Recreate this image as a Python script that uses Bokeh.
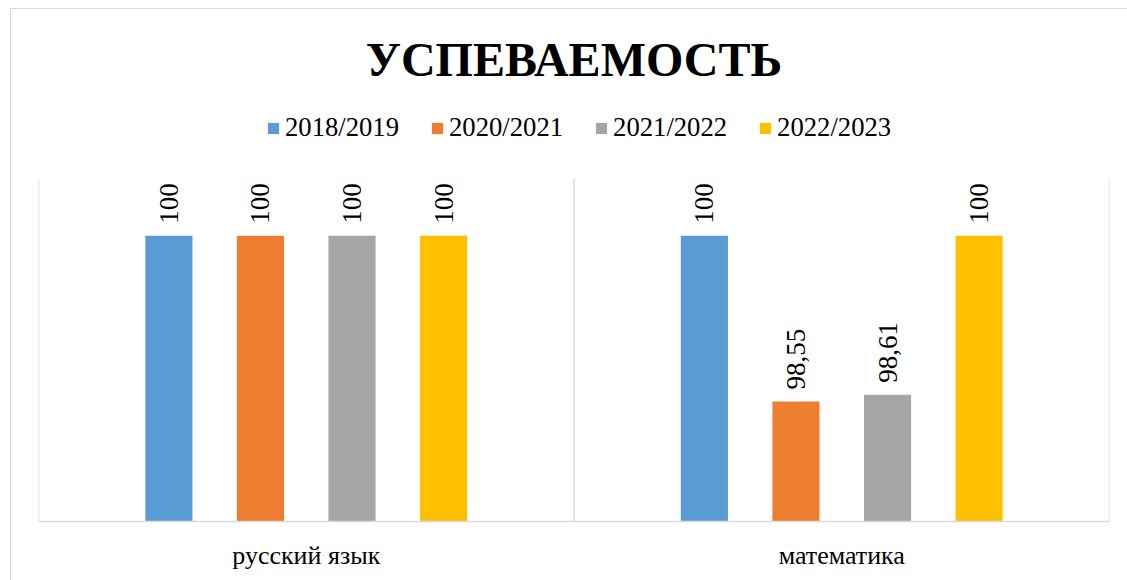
from bokeh.plotting import figure
from bokeh.models import (ColumnDataSource, FactorRange, Range1d, Legend,
                          LegendItem, LabelSet, Title)
from bokeh.transform import dodge
from bokeh.embed import file_html
from bokeh.resources import INLINE

# ---- data ----
categories = ["русский язык", "математика"]
series = ["2018/2019", "2020/2021", "2021/2022", "2022/2023"]
v_2018_2019 = [100, 100]
v_2020_2021 = [100, 98.55]
v_2021_2022 = [100, 98.61]
v_2022_2023 = [100, 100]
colors = ["#5B9BD5", "#ED7D31", "#A5A5A5", "#FFC000"]
y_min, y_axis_max = 97.5, 100.5

values = [v_2018_2019, v_2020_2021, v_2021_2022, v_2022_2023]

def fmt(v):
    s = ("%.2f" % v).rstrip("0").rstrip(".")
    return s.replace(".", ",")

FONT = "Liberation Serif"
GRID = "#D9D9D9"

# plot area extends up so the legend can live inside it
px_per_unit = 114.0
frame_h = 425
y_top = y_min + frame_h / px_per_unit

p = figure(x_range=FactorRange(factors=categories, range_padding=0),
           y_range=Range1d(y_min, y_top),
           width=1117, height=572, output_backend="svg", toolbar_location=None,
           min_border_left=27, min_border_right=19, min_border_bottom=60,
           min_border_top=86)
p.margin = (8, 0, 0, 10)
p.styles = {"border-left": "1px solid #D9D9D9", "border-top": "1px solid #D9D9D9"}

p.title = Title(text="УСПЕВАЕМОСТЬ", align="center", text_font=FONT,
                text_font_size="48px", text_font_style="bold",
                text_color="black", standoff=20, offset=0)

p.outline_line_color = None
p.xgrid.visible = False
p.ygrid.visible = False
p.yaxis.visible = False
p.xaxis.axis_line_color = GRID
p.xaxis.axis_line_width = 1.5
p.xaxis.major_tick_line_color = None
p.xaxis.minor_tick_line_color = None
p.xaxis.major_label_text_font = FONT
p.xaxis.major_label_text_font_size = "26px"
p.xaxis.major_label_text_color = "black"
p.xaxis.major_label_standoff = 13

# category separators / plot-area side borders
sep_x = list(range(len(categories) + 1))
p.segment(x0=sep_x, y0=[y_min] * len(sep_x), x1=sep_x, y1=[y_axis_max] * len(sep_x),
          line_color=GRID, line_width=1.5)

step = 0.171
offsets = [-1.5 * step, -0.5 * step, 0.5 * step, 1.5 * step]
items = []
for name, vals, col, off in zip(series, values, colors, offsets):
    src = ColumnDataSource(dict(cat=categories, val=vals,
                                lab=[fmt(v) for v in vals]))
    r = p.vbar(x=dodge("cat", off, range=p.x_range), top="val", bottom=y_min,
               width=0.088, source=src, fill_color=col, line_color=None)
    items.append(LegendItem(label=name, renderers=[r]))
    labels = LabelSet(x=dodge("cat", off, range=p.x_range), y="val", text="lab",
                      source=src, angle=1.5707963, y_offset=12, text_align="left",
                      text_baseline="middle", text_font=FONT,
                      text_font_size="27px", text_color="black")
    p.add_layout(labels)

legend = Legend(items=items, orientation="horizontal", location=(228, 378),
                label_text_font=FONT, label_text_font_size="26.67px",
                label_text_color="black", glyph_width=14, glyph_height=14,
                label_standoff=5, spacing=31, border_line_color=None,
                background_fill_alpha=0, padding=4, margin=0)
p.add_layout(legend)

open("out.html", "w").write(file_html(p, INLINE))
